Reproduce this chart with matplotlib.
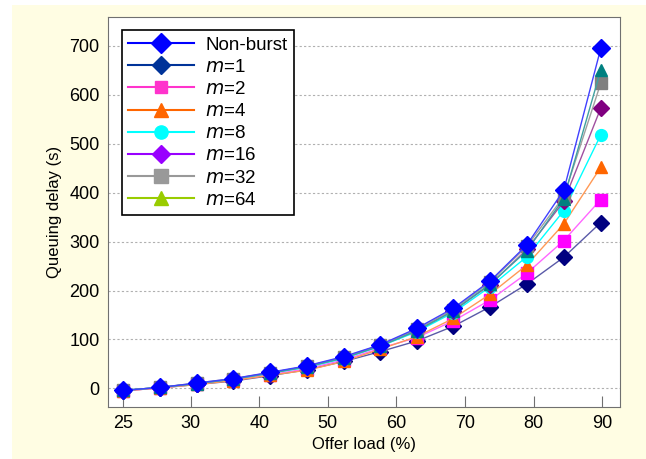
import matplotlib
matplotlib.use("Agg")
import matplotlib.pyplot as plt
from matplotlib.lines import Line2D
from matplotlib.patches import Rectangle

plt.rcParams['font.family'] = ['Liberation Sans', 'DejaVu Sans']

# ---- data ----
load = [20.2, 25.5, 30.9, 36.2, 41.6, 46.9, 52.3, 57.6, 63.0, 68.3, 73.7, 79.0, 84.4, 89.8]
tick_pos = [20.2, 30, 40, 50, 60, 70, 80, 90]
tick_lab = ["25", "30", "40", "50", "60", "70", "80", "90"]

nonburst = [-4, 2, 11, 20, 33, 46, 65, 89, 123, 164, 220, 293, 405, 695]
m1 = [-5, 1, 8, 15, 26, 38, 55, 75, 97, 127, 167, 213, 268, 339]
m2 = [-5, 1, 9, 17, 28, 40, 58, 82, 104, 138, 181, 235, 302, 386]
m4 = [-5, 1, 8, 16, 27, 37, 55, 80, 106, 143, 193, 252, 336, 452]
m8 = [-4, 2, 10, 19, 31, 43, 61, 86, 116, 155, 208, 269, 363, 518]
m16 = [-4, 2, 10, 19, 32, 45, 63, 88, 119, 159, 212, 284, 382, 573]
m32 = [-4, 2, 11, 20, 32, 45, 64, 88, 121, 161, 218, 290, 392, 624]
m64 = [-4, 2, 10, 19, 31, 44, 62, 86, 118, 158, 214, 281, 388, 651]

labels = ["Non-burst", "$m$=1", "$m$=2", "$m$=4", "$m$=8", "$m$=16", "$m$=32", "$m$=64"]

# (values, marker, size, plot colour, line colour, legend colour)
series = [
    (m1, 'D', 8, '#000080', '#5a5aa8', '#003399'),
    (m2, 's', 8, '#ff00ff', '#ff66ff', '#ff33cc'),
    (m4, '^', 9, '#ff6600', '#ff9955', '#ff6600'),
    (m8, 'o', 8.5, '#00ffff', '#00ffff', '#00ffff'),
    (m16, 'D', 8, '#800080', '#a050a0', '#9900ff'),
    (m32, 's', 9, '#808080', '#a0a0a0', '#999999'),
    (m64, '^', 9, '#008080', '#40a0a0', '#99cc00'),
    (nonburst, 'D', 9, '#0000ff', '#4040ff', '#0000ff'),
]

fig = plt.figure(figsize=(6.46, 4.59), dpi=100)
fig.patch.set_facecolor('white')
fig.patches.append(Rectangle((12 / 646, 0), 1, 1 - 5 / 459, transform=fig.transFigure,
                             facecolor='#fffde3', edgecolor='none', zorder=-10))

ax = fig.add_axes([108 / 646, 1 - 407 / 459, 512 / 646, 390 / 459])
ax.set_facecolor('white')

for i, (vals, mk, ms, c, lc, _) in enumerate(series):
    ax.plot(load, vals, color=lc, lw=1.0, marker=mk, markersize=ms,
            markerfacecolor=c, markeredgecolor=c, zorder=3 + i)

ax.set_xlim(17.95, 92.6)
ax.set_ylim(-38, 759)
ax.set_xticks(tick_pos)
ax.set_xticklabels(tick_lab)
ax.set_yticks(range(0, 701, 100))
ax.yaxis.grid(True, linestyle=(0, (2, 2)), color='#b0b0b0', lw=0.8)
ax.tick_params(direction='in', length=8, color='#707070', labelsize=13, pad=6)
ax.tick_params(axis='y', length=0)
for s in ax.spines.values():
    s.set_color('#707070')

ax.set_xlabel("Offer load (%)", fontsize=12, labelpad=3)
ax.set_ylabel("Queuing delay (s)", fontsize=12, labelpad=5)

# legend order: Non-burst first, then m=1 ... m=64
order = [7, 0, 1, 2, 3, 4, 5, 6]
handles = []
for k in order:
    vals, mk, ms, c, lc, legc = series[k]
    handles.append(Line2D([], [], color=legc, lw=1.5, marker=mk, markersize=ms + 1,
                          markerfacecolor=legc, markeredgecolor=legc))
leg = ax.legend(handles, labels, loc='upper left', bbox_to_anchor=(0.027, 0.967),
                borderaxespad=0, fontsize=13.5, handlelength=3.5, handletextpad=0.6,
                labelspacing=0.27, borderpad=0.35, fancybox=False, framealpha=1,
                edgecolor='black')
leg.get_frame().set_linewidth(1.2)
leg.set_zorder(20)

fig.savefig("out.png", dpi=100)
